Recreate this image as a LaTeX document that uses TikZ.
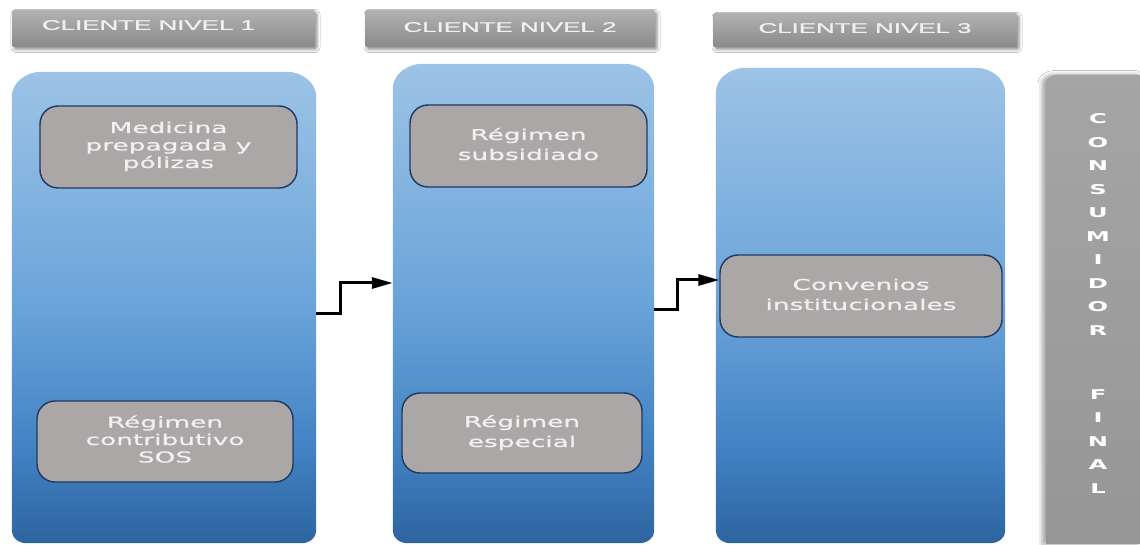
\documentclass[tikz,border=0pt]{standalone}
\usepackage{fontspec}
\usepackage{graphicx}
\usetikzlibrary{arrows.meta,shadows.blur,calc}

\newfontfamily\boxfont{DejaVu Sans}[FakeBold=0.6]
\newfontfamily\hdrfont{Liberation Sans}[FakeBold=1]
\newfontfamily\barfont{DejaVu Sans Bold}

\definecolor{colTop}{RGB}{157,195,230}
\definecolor{colMid}{RGB}{108,165,218}
\definecolor{colLow}{RGB}{66,130,195}
\definecolor{colBot}{RGB}{45,100,160}
\definecolor{boxFill}{RGB}{172,167,167}
\definecolor{boxLine}{RGB}{31,56,96}
\definecolor{hdrTop}{RGB}{178,178,178}
\definecolor{hdrBot}{RGB}{138,138,138}
\definecolor{barTop}{RGB}{165,165,165}
\definecolor{barBot}{RGB}{150,150,150}
\definecolor{txtLight}{RGB}{240,240,240}

% blue panel gradient (path spans 25bp..75bp of the shading)
\pgfdeclareverticalshading{colshade}{100bp}{color(0bp)=(colBot); color(25bp)=(colBot);
  color(35bp)=(colLow); color(51bp)=(colMid); color(75bp)=(colTop); color(100bp)=(colTop)}

% stretched multi-line label
\newcommand\wtext[2]{\raisebox{#1}{\scalebox{1.76}[1]{\begin{tabular}{@{}c@{}}#2\end{tabular}}}}
\newcommand\htext[1]{\scalebox{1.85}[1]{#1}}

% shaded column panel drawn around an invisible node
\newcommand\panel[1]{%
  \path[shading=colshade]
    ([yshift=12pt]#1.south west) -- ([yshift=-25pt]#1.north west)
    arc[start angle=180,end angle=90,x radius=30pt,y radius=25pt]
    -- ([xshift=-30pt]#1.north east)
    arc[start angle=90,end angle=0,x radius=30pt,y radius=25pt]
    -- ([yshift=12pt]#1.south east)
    arc[start angle=0,end angle=-90,x radius=15pt,y radius=12pt]
    -- ([xshift=15pt]#1.south west)
    arc[start angle=270,end angle=180,x radius=15pt,y radius=12pt]
    -- cycle;}

\begin{document}
\begin{tikzpicture}[x=1pt,y=1pt,
  hdr/.style={rectangle, rounded corners=2pt, top color=hdrTop, bottom color=hdrBot,
    draw=none, inner sep=0pt, text=txtLight,
    font=\hdrfont\fontsize{14pt}{16pt}\selectfont,
    blur shadow={shadow xshift=2pt,shadow yshift=-2.5pt,shadow blur radius=3pt,shadow opacity=45}},
  colarea/.style={rectangle, draw=none, inner sep=0pt},
  entity/.style={rectangle, rounded corners=18pt, fill=boxFill, draw=boxLine,
    line width=1.4pt, inner sep=0pt, text=txtLight,
    font=\boxfont\fontsize{15pt}{20pt}\selectfont},
  entity3/.style={entity, font=\boxfont\fontsize{15pt}{17.5pt}\selectfont},
  flow/.style={line width=3pt, black, line join=miter, -{Triangle[length=21pt,width=11pt]}},
  barfill/.style={top color=barTop, bottom color=barBot,
    blur shadow={shadow xshift=-4pt,shadow yshift=0pt,shadow blur radius=4pt,shadow opacity=35}},
]
\path[fill=white] (0,0) rectangle (1140,544);
\useasboundingbox (0,0) rectangle (1140,544);

% headers
\node[hdr, minimum width=303pt, minimum height=37pt] (h1) at (163.5,515.5)
  {\hspace*{-30pt}\raisebox{7pt}{\htext{CLIENTE NIVEL 1}}};
\node[hdr, minimum width=290pt, minimum height=37pt] (h2) at (510,515.5)
  {\raisebox{3pt}{\htext{CLIENTE NIVEL 2}}};
\node[hdr, minimum width=304pt, minimum height=34pt] (h3) at (865,514)
  {\raisebox{4pt}{\htext{CLIENTE NIVEL 3}}};

% column panels
\node[colarea, minimum width=304pt, minimum height=471pt] (c1) at (164,236.5) {};
\node[colarea, minimum width=261pt, minimum height=479pt] (c2) at (523.5,240.5) {};
\node[colarea, minimum width=289pt, minimum height=475pt] (c3) at (860.5,238.5) {};
\panel{c1}
\panel{c2}
\panel{c3}

% final consumer bar
\node[colarea, minimum width=94pt, minimum height=469pt, anchor=south west] (cons) at (1046,0) {};
\path[barfill] (cons.south west) -- ([yshift=-9pt]cons.north west)
  arc[start angle=180,end angle=90,x radius=12pt,y radius=9pt]
  -- (cons.north east) -- (cons.south east) -- cycle;
\node[inner sep=0pt, text=white, font=\barfont\fontsize{13.5pt}{23.5pt}\selectfont]
  (constxt) at (1098,240)
  {\scalebox{1.79}[1]{\begin{tabular}{@{}c@{}}C\\O\\N\\S\\U\\M\\I\\D\\O\\R\\[40.5pt]F\\I\\N\\A\\L\end{tabular}}};

% entities
\node[entity3, minimum width=257pt, minimum height=82pt] (b1) at (168.5,397)
  {\wtext{0pt}{Medicina\\prepagada y\\pólizas}};
\node[entity3, minimum width=256pt, minimum height=81pt] (b2) at (165,102.5)
  {\wtext{0pt}{Régimen\\contributivo\\SOS}};
\node[entity, minimum width=237pt, minimum height=82pt] (b3) at (528.5,398)
  {\wtext{6.5pt}{Régimen\\subsidiado}};
\node[entity, minimum width=240pt, minimum height=80pt] (b4) at (522,111)
  {\wtext{6.5pt}{Régimen\\especial}};
\node[entity, minimum width=282pt, minimum height=82pt] (b5) at (861,248)
  {\wtext{7pt}{Convenios\\institucionales}};

% step connectors
\draw[flow] ([yshift=-6.5pt]c1.east) -- ++(24,0) |- ([yshift=20.5pt]c2.west);
\draw[flow] ([yshift=-6.5pt]c2.east) -- ++(23,0) |- ([yshift=16pt]b5.west);
\end{tikzpicture}
\end{document}
